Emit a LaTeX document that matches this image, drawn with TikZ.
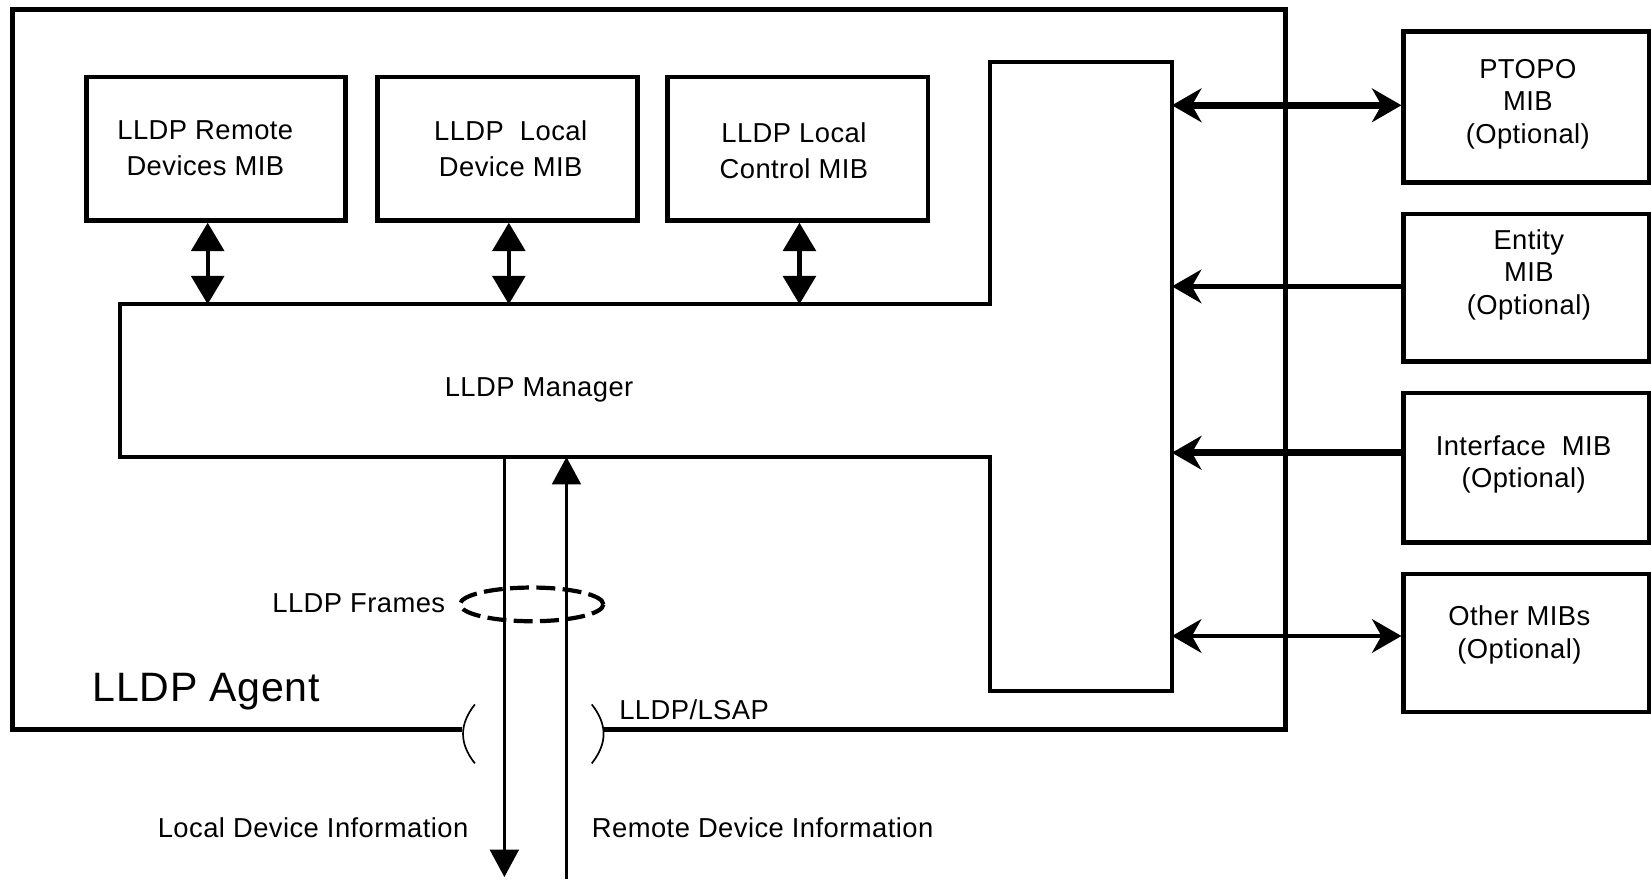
\documentclass[tikz,border=0pt]{standalone}
\usepackage{fontspec}
\setmainfont{Liberation Sans}[LetterSpace=1.6]
\usetikzlibrary{arrows.meta,shapes.geometric}
\tikzset{
  bighead/.tip={Stealth[length=28pt,width=32pt,inset=9pt]},
  vhead/.tip={Triangle[length=27pt,width=31pt]},
  dhead/.tip={Triangle[length=26pt,width=27pt]},
}
\begin{document}
\begin{tikzpicture}[x=1pt,y=-1pt,
  frame/.style={line width=4.5pt,line join=miter},
  mibbox/.style={draw,line width=4.5pt,anchor=north west,inner sep=0pt},
  btext/.style={inner sep=0pt,align=center,font=\fontsize{26}{34}\selectfont},
  rtext/.style={inner sep=0pt,align=center,font=\fontsize{26}{31}\selectfont},
  txt/.style={inner sep=0pt,font=\fontsize{26}{31}\selectfont},
  vdbl/.style={line width=4pt,vhead-vhead},
  flow/.style={line width=3.5pt},
  paren/.style={line width=1.6pt},
]
\useasboundingbox (0,0) rectangle (1568,835);

% LLDP agent outline, open at the bottom where the LSAP sits
\draw[frame] (439,693) -- (12,693) -- (12,9) -- (1221,9) -- (1221,693) -- (574,693);
\node[anchor=base west,inner sep=0pt,font=\fontsize{39}{39}\selectfont] (agent) at (88,666) {LLDP Agent};

% MIB boxes inside the agent
\node[mibbox,minimum width=246pt,minimum height=136pt] (rem) at (80,71) {};
\node[mibbox,minimum width=247pt,minimum height=136pt] (loc) at (356,71) {};
\node[mibbox,minimum width=247pt,minimum height=136pt] (ctl) at (632,71) {};
\node[btext] (remt) at (195,141) {LLDP Remote\\Devices MIB};
\node[btext] (loct) at (485,141) {LLDP\ \ Local\\Device MIB};
\node[btext] (ctlt) at (754,143) {LLDP Local\\Control MIB};

% T-shaped LLDP manager
\draw[line width=3.8pt,line join=miter] (114,289) -- (940,289) -- (940,59) -- (1113,59)
  -- (1113,656) -- (940,656) -- (940,434) -- (114,434) -- cycle;
\node[txt,anchor=base] (mgr) at (512,377) {LLDP Manager};
\coordinate (mgrtop) at (0,289);
\coordinate (mgrbot) at (0,434);

% optional MIBs outside the agent
\node[mibbox,minimum width=233pt,minimum height=143pt] (ptopo) at (1331,28) {};
\node[mibbox,minimum width=233pt,minimum height=140pt] (entity) at (1331,201) {};
\node[mibbox,minimum width=233pt,minimum height=142pt] (iface) at (1331,371) {};
\node[mibbox,minimum width=233pt,minimum height=131pt] (other) at (1331,543) {};
\node[rtext] (ptopot) at (1451,99) {PTOPO\\MIB\\(Optional)};
\node[rtext] (entityt) at (1452,261) {Entity\\MIB\\(Optional)};
\node[rtext] (ifacet) at (1447,441) {Interface\ \ MIB\\(Optional)};
\node[rtext] (othert) at (1443,603) {Other MIBs\\(Optional)};

% manager <-> local MIBs
\draw[vdbl] ([xshift=-8pt]rem.south) -- ([xshift=-8pt]rem.south |- mgrtop);
\draw[vdbl] ([xshift=1.5pt]loc.south) -- ([xshift=1.5pt]loc.south |- mgrtop);
\draw[vdbl] ([xshift=1.5pt]ctl.south) -- ([xshift=1.5pt]ctl.south |- mgrtop);

% manager <-> optional MIBs
\coordinate (pR) at (1113,100);
\coordinate (eR) at (1113,272);
\coordinate (iR) at (1113,430);
\coordinate (oR) at (1113,604);
\draw[line width=6.5pt,bighead-bighead] (pR) -- (ptopo.west |- pR);
\draw[line width=4pt,bighead-] (eR) -- (entity.west |- eR);
\draw[line width=6.5pt,bighead-] (iR) -- (iface.west |- iR);
\draw[line width=4pt,bighead-bighead] (oR) -- (other.west |- oR);

% frames leaving and entering the agent
\coordinate (dn) at (479,833);
\coordinate (up) at (538,835);
\draw[flow,-dhead] (dn |- mgrbot) -- (dn);
\draw[flow,-dhead] (up) -- (up |- mgrbot);
\node[draw,ellipse,line width=4pt,dash pattern=on 18pt off 7pt,
      minimum width=136pt,minimum height=32pt,inner sep=0pt] (frames) at (505,574) {};
\node[txt,anchor=base east] (framest) at (423,582) {LLDP Frames};

% LSAP boundary
\draw[paren] (451,669) .. controls (436,688) and (436,706) .. (451,725);
\draw[paren] (562,669) .. controls (577,688) and (577,706) .. (562,725);
\node[txt,anchor=base west] (lsap) at (588,683) {LLDP/LSAP};

\node[txt,anchor=base east] (ldi) at (445,795) {Local Device Information};
\node[txt,anchor=base west] (rdi) at (562,795) {Remote Device Information};
\end{tikzpicture}
\end{document}
